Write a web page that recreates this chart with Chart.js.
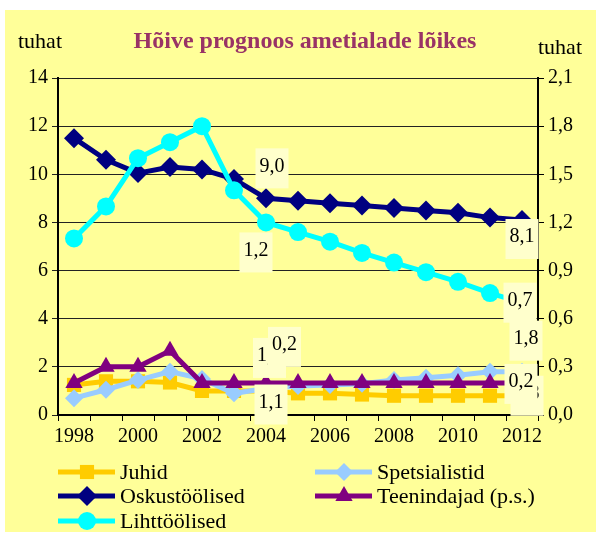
<!DOCTYPE html>
<html>
<head>
<meta charset="utf-8">
<script src="https://cdn.jsdelivr.net/npm/chart.js@4"></script>
<style>
  html, body { margin: 0; padding: 0; background: #fff; }
  #wrap { width: 598px; height: 533px; }
</style>
</head>
<body>
<div id="wrap"><canvas id="chart" width="598" height="533"></canvas></div>
<script>
// Data (thousands of people)
const years = ['1998', '1999', '2000', '2001', '2002', '2003', '2004', '2005',
               '2006', '2007', '2008', '2009', '2010', '2011', '2012'];
const juhid = [1.25, 1.4, 1.4, 1.35, 1.0, 1.0, 1.0, 0.9, 0.9, 0.85, 0.8, 0.8, 0.8, 0.8, 0.8];
const spetsialistid = [0.7, 1.05, 1.45, 1.8, 1.5, 0.9, 1.1, 1.2, 1.25, 1.3, 1.45, 1.55, 1.65, 1.8, 1.8];
const oskustoolised = [11.5, 10.6, 10.05, 10.3, 10.2, 9.8, 9.0, 8.9, 8.8, 8.7, 8.6, 8.5, 8.4, 8.2, 8.1];
// right scale (p.s.)
const teenindajad = [0.2, 0.3, 0.3, 0.4, 0.2, 0.2, 0.2, 0.2, 0.2, 0.2, 0.2, 0.2, 0.2, 0.2, 0.2];
const lihttoolised = [1.1, 1.3, 1.6, 1.7, 1.8, 1.4, 1.2, 1.14, 1.08, 1.01, 0.95, 0.89, 0.83, 0.76, 0.7];

const leftMax = 14, leftStep = 2;
const rightMax = 2.1, rightStep = 0.3;
const labelYears = ['2004', '2012'];

const SERIF = "'Liberation Serif', 'Times New Roman', serif";
const fmt = v => v.toFixed(1).replace('.', ',');

// Background, titles and units
const decorPlugin = {
    id: 'decor',
    beforeDraw(chart) {
        const c = chart.ctx;
        c.save();
        c.fillStyle = '#fff';
        c.fillRect(0, 0, chart.width, chart.height);
        c.fillStyle = '#FFFF99';
        c.fillRect(5, 10, 591, 522);
        c.restore();
    },
    afterDraw(chart) {
        const c = chart.ctx;
        c.save();
        c.textBaseline = 'middle';
        c.fillStyle = '#993366';
        c.font = 'bold 24px ' + SERIF;
        c.textAlign = 'center';
        c.fillText('Hõive prognoos ametialade lõikes', 305, 42);
        c.fillStyle = '#000';
        c.font = '22px ' + SERIF;
        c.fillText('tuhat', 40, 42);
        c.fillText('tuhat', 560, 48);
        c.restore();
    }
};

// Legend: line + marker, two columns
const legendPlugin = {
    id: 'legend2',
    afterDraw(chart) {
        const c = chart.ctx;
        const slots = [[58, 472], [58, 496], [58, 521], [315, 472], [315, 496]];
        const order = [0, 2, 4, 1, 3];
        c.save();
        c.font = '22px ' + SERIF;
        c.textBaseline = 'middle';
        c.textAlign = 'left';
        order.forEach((di, k) => {
            const ds = chart.data.datasets[di];
            const [x, y] = slots[k];
            c.strokeStyle = ds.borderColor;
            c.lineWidth = 5;
            c.beginPath();
            c.moveTo(x, y);
            c.lineTo(x + 57, y);
            c.stroke();
            c.fillStyle = ds.pointBackgroundColor;
            c.strokeStyle = ds.pointBorderColor;
            Chart.helpers.drawPoint(c, {
                pointStyle: ds.pointStyle, radius: ds.pointRadius, rotation: 0, borderWidth: 0
            }, x + 29, y);
            c.fillStyle = '#000';
            c.fillText(ds.label, x + 62, y + 1);
        });
        c.restore();
    }
};

// Value labels in pale boxes at chosen years
const valueLabelPlugin = {
    id: 'valueLabels',
    afterDraw(chart) {
        const c = chart.ctx;
        c.save();
        c.font = '20px ' + SERIF;
        c.textAlign = 'center';
        c.textBaseline = 'middle';
        chart.data.datasets.forEach((ds, di) => {
            const meta = chart.getDatasetMeta(di);
            labelYears.forEach((yr, k) => {
                const i = years.indexOf(yr);
                const pt = meta.data[i];
                const [dx, dy] = ds.labelOffsets[k];
                const txt = fmt(ds.data[i]);
                const w = c.measureText(txt).width + 8;
                const h = 40;
                const cx = pt.x + dx, cy = pt.y + dy;
                c.fillStyle = '#FFFFCC';
                c.fillRect(cx - w / 2, cy - h / 2, w, h);
                c.fillStyle = '#000';
                c.fillText(txt, cx, cy - 2);
            });
        });
        c.restore();
    }
};

function series(label, data, color, style, radius, axis, order, offsets) {
    return {
        label: label,
        data: data,
        yAxisID: axis,
        borderColor: color,
        backgroundColor: color,
        pointBackgroundColor: color,
        pointBorderColor: color,
        pointStyle: style,
        pointRadius: radius,
        pointHoverRadius: radius,
        pointBorderWidth: 0,
        borderWidth: 5,
        tension: 0,
        order: order,
        labelOffsets: offsets
    };
}

const ctx = document.getElementById('chart').getContext('2d');
const chart = new Chart(ctx, {
    type: 'line',
    data: {
        labels: years,
        datasets: [
            series('Juhid', juhid, '#FFCC00', 'rect', 10, 'y', 5, [[3.5, -33], [5, 0]]),
            series('Spetsialistid', spetsialistid, '#99CCFF', 'rectRot', 9, 'y', 4, [[5, 16], [4, -31]]),
            series('Oskustöölised', oskustoolised, '#000080', 'rectRot', 10, 'y', 3, [[6, -30], [0, 19]]),
            series('Teenindajad (p.s.)', teenindajad, '#800080', 'triangle', 10, 'y1', 2, [[18.5, -36], [-1, 1]]),
            series('Lihttöölised', lihttoolised, '#00FFFF', 'circle', 9, 'y1', 1, [[-10, 30], [-2, 0]])
        ]
    },
    options: {
        responsive: false,
        animation: false,
        layout: { padding: { top: 78, left: 0, right: 0, bottom: 0 } },
        plugins: {
            legend: { display: false },
            title: { display: false },
            tooltip: { enabled: false }
        },
        scales: {
            x: {
                offset: true,
                grid: { display: true, offset: true, drawOnChartArea: false, drawTicks: true, tickLength: 6, color: '#000' },
                border: { display: true, color: '#000', width: 2 },
                ticks: {
                    autoSkip: false,
                    maxRotation: 0,
                    padding: 4,
                    color: '#000',
                    font: { family: SERIF, size: 20 },
                    callback: function (v, i) { return i % 2 === 0 ? this.getLabelForValue(v) : ''; }
                },
                afterFit(s) { s.height = 118; }
            },
            y: {
                position: 'left',
                min: 0, max: leftMax,
                grid: { color: '#222', lineWidth: 1, tickLength: 6 },
                border: { display: true, color: '#000', width: 2 },
                ticks: { stepSize: leftStep, padding: 4, color: '#000', font: { family: SERIF, size: 20 } },
                afterFit(s) { s.width = 58; }
            },
            y1: {
                position: 'right',
                min: 0, max: rightMax,
                grid: { drawOnChartArea: false, tickLength: 6, color: '#000' },
                border: { display: true, color: '#000', width: 2 },
                ticks: {
                    stepSize: rightStep, padding: 4, color: '#000', font: { family: SERIF, size: 20 },
                    callback: v => fmt(v)
                },
                afterFit(s) { s.width = 60; }
            }
        }
    },
    plugins: [decorPlugin, legendPlugin, valueLabelPlugin]
});
</script>
</body>
</html>
